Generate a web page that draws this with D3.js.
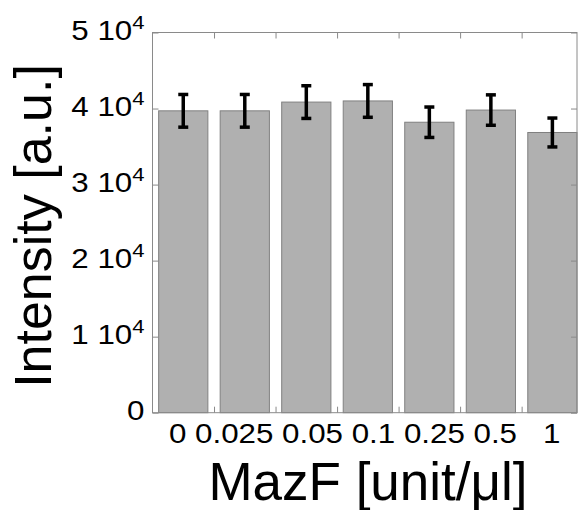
<!DOCTYPE html>
<html>
<head>
<meta charset="utf-8">
<script src="https://cdn.jsdelivr.net/npm/d3@7"></script>
<style>
  body { margin: 0; background: #fff; }
  text { font-family: "Liberation Sans", Arial, sans-serif; fill: #000; }
</style>
</head>
<body>
<div id="chart"></div>
<script>
// Data (intensity in units of 10^4)
const doses = ['0', '0.025', '0.05', '0.1', '0.25', '0.5', '1'];
const means = [3.97, 3.97, 4.085, 4.10, 3.82, 3.98, 3.685];
const errors = [0.215, 0.215, 0.215, 0.215, 0.20, 0.20, 0.19];
const yTicks = [0, 1, 2, 3, 4, 5];

const width = 578;
const height = 510;
const plot = { left: 152.5, right: 577, top: 32.5, bottom: 412.7 };

const svg = d3.select('#chart')
  .append('svg')
  .attr('width', width)
  .attr('height', height);

// Scales: bar positions 1..7, a bit cut on the right like the original
const xScale = d3.scaleLinear().domain([0.5, 7.4]).range([plot.left, plot.right]);
const yScale = d3.scaleLinear().domain([0, 5]).range([plot.bottom, plot.top]);

const barHalf = 0.4;

// Bars
svg.append('g')
  .selectAll('rect')
  .data(means)
  .join('rect')
  .attr('x', (d, i) => xScale(i + 1 - barHalf))
  .attr('y', (d) => yScale(d))
  .attr('width', xScale(1 + barHalf) - xScale(1 - barHalf))
  .attr('height', (d) => yScale(0) - yScale(d))
  .attr('fill', '#b0b0b0')
  .attr('stroke', '#808080')
  .attr('stroke-width', 1);

// Error bars
const err = svg.append('g').attr('stroke', '#000').attr('stroke-width', 3.5);
means.forEach((m, i) => {
  const cx = xScale(i + 1);
  const top = yScale(m + errors[i]);
  const bot = yScale(m - errors[i]);
  err.append('line').attr('x1', cx).attr('x2', cx).attr('y1', top).attr('y2', bot);
  err.append('line').attr('x1', cx - 5).attr('x2', cx + 5).attr('y1', top).attr('y2', top);
  err.append('line').attr('x1', cx - 5).attr('x2', cx + 5).attr('y1', bot).attr('y2', bot);
});

// Axes box with inward ticks
const tickLen = 6;
const axisColor = '#8a8a8a';
const xTickVals = d3.range(1.5, 7, 1);

svg.append('g')
  .attr('transform', `translate(${plot.left},0)`)
  .call(d3.axisLeft(yScale).tickValues(yTicks).tickFormat('').tickSize(-tickLen).tickSizeOuter(0));
svg.append('g')
  .attr('transform', `translate(${plot.right},0)`)
  .call(d3.axisRight(yScale).tickValues(yTicks).tickFormat('').tickSize(-tickLen).tickSizeOuter(0));
svg.append('g')
  .attr('transform', `translate(0,${plot.bottom})`)
  .call(d3.axisBottom(xScale).tickValues(xTickVals).tickFormat('').tickSize(-tickLen).tickSizeOuter(0));
svg.append('g')
  .attr('transform', `translate(0,${plot.top})`)
  .call(d3.axisTop(xScale).tickValues(xTickVals).tickFormat('').tickSize(-tickLen).tickSizeOuter(0));

svg.selectAll('.domain').remove();
svg.selectAll('.tick line').attr('stroke', axisColor);

svg.append('rect')
  .attr('x', plot.left)
  .attr('y', plot.top)
  .attr('width', plot.right - plot.left)
  .attr('height', plot.bottom - plot.top)
  .attr('fill', 'none')
  .attr('stroke', axisColor)
  .attr('stroke-width', 1);

// Y tick labels "n 10^4"
const stretch = 1.16;
const yLab = svg.append('g');
yTicks.forEach((t) => {
  const g = yLab.append('g')
    .attr('transform', `translate(144.5,${yScale(t) + 7.7}) scale(${stretch},1)`);
  const txt = g.append('text')
    .attr('text-anchor', 'end')
    .attr('font-size', 27);
  if (t === 0) {
    txt.text('0');
  } else {
    txt.append('tspan').text(t + ' 10');
    txt.append('tspan')
      .attr('font-size', 19)
      .attr('dy', -11)
      .text('4');
  }
});

// X tick labels, written as one string like the original
svg.append('g')
  .attr('transform', `translate(${(plot.left + plot.right) / 2},443.3) scale(${stretch},1)`)
  .append('text')
  .attr('text-anchor', 'middle')
  .attr('font-size', 27)
  .style('white-space', 'pre')
  .text(doses.slice(0, -1).join(' ') + '   ' + doses[doses.length - 1]);

// Axis titles
svg.append('text')
  .attr('x', 368)
  .attr('y', 500)
  .attr('text-anchor', 'middle')
  .attr('font-size', 53)
  .text('MazF [unit/\u03bcl]');

svg.append('text')
  .attr('transform', 'translate(51,226) rotate(-90)')
  .attr('text-anchor', 'middle')
  .attr('font-size', 52)
  .text('Intensity [a.u.]');
</script>
</body>
</html>
